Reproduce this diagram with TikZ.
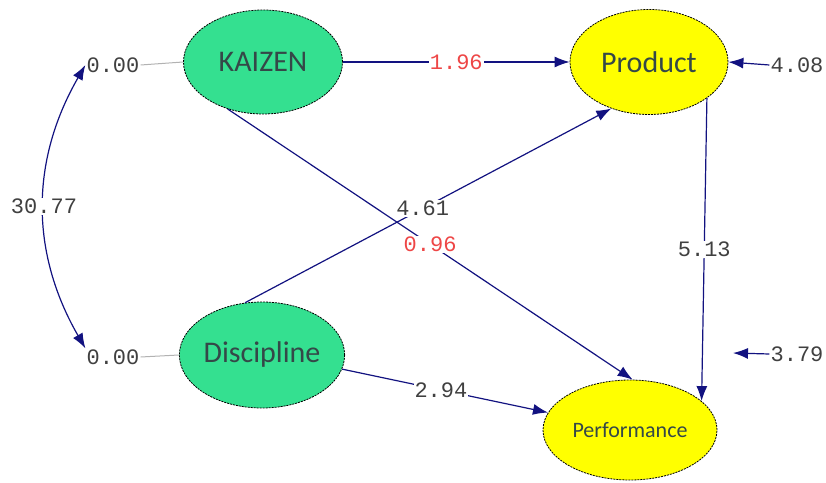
\documentclass[tikz,border=0pt]{standalone}
\usepackage{fontspec}
\setmainfont{Carlito}
\newfontfamily\monofont{Liberation Mono}
\usetikzlibrary{arrows.meta}
\usetikzlibrary{shapes.geometric}
\definecolor{semgreen}{RGB}{52,224,144}
\definecolor{semyellow}{RGB}{255,255,0}
\definecolor{linkblue}{RGB}{18,18,128}
\definecolor{valred}{RGB}{238,70,70}
\definecolor{nametext}{RGB}{52,72,72}

\tikzset{
  latent/.style = {ellipse, draw = black, dash pattern = on 2pt off 1pt,
    line width = .8pt, inner sep = 0pt, text = nametext},
  coef/.style = {font = \monofont\fontsize{22}{22}\selectfont,
    text = black!75, fill = white, inner sep = 1pt},
  tip/.style = {-{Latex[length = 15pt, width = 11pt]}},
  link/.style = {draw = linkblue, line width = 1.2pt, tip},
}

\begin{document}
\begin{tikzpicture}
  [x = 1pt, y = 1pt]
  \useasboundingbox (0,0) rectangle (826,482);
  % latent variables
  \node[latent, fill = semgreen, minimum width = 159, minimum height = 104,
    font = \fontsize{30}{30}\selectfont] (kaizen) at (263,420) {KAIZEN};
  \node[latent, fill = semgreen, minimum width = 158, minimum height = 106,
    font = \fontsize{30}{30}\selectfont] (discipline) at (262,127) {Discipline};
  \node[latent, fill = semyellow, minimum width = 158, minimum height = 105,
    font = \fontsize{30}{30}\selectfont] (product) at (649,420) {Product};
  \node[latent, fill = semyellow, minimum width = 174, minimum height = 100,
    font = \fontsize{22}{22}\selectfont] (performance) at (630,52) {Performance};
  % variances and residuals
  \node[coef] (k0) at (113,417) {0.00};
  \node[coef] (d0) at (113,125) {0.00};
  \node[coef] (rp) at (797,417) {4.08};
  \node[coef] (rf) at (797,128) {3.79};
  \coordinate (rfend) at (733,129);
  \draw[black!30, line width = 1pt] (k0.east) -- (kaizen.west);
  \draw[black!30, line width = 1pt] (d0.east) -- (discipline.west);
  \draw[link, {Latex[length = 15pt, width = 11pt]}-{Latex[length = 15pt, width = 11pt]}]
    (k0.west) to[out = 240, in = 120] node[coef] (cov) {30.77} (d0.north west);
  % paths
  \draw[link] (kaizen.east) -- node[coef, text = valred] (kp) {1.96} (product.west);
  \draw[link] (discipline.108) -- node[coef, pos = .485] (dp) {4.61} (product.231);
  \draw[link] (kaizen.233) -- node[coef, text = valred, pos = .5] (kf) {0.96} (performance.87);
  \draw[link] (product.328) -- node[coef] (pf) {5.13} (performance.22);
  \draw[link] (discipline.350) -- node[coef, pos = .48] (df) {2.94} (performance.168);
  \draw[link] (rp.west) -- (product.east);
  \draw[link] (rf.west) -- (rfend);
\end{tikzpicture}
\end{document}
